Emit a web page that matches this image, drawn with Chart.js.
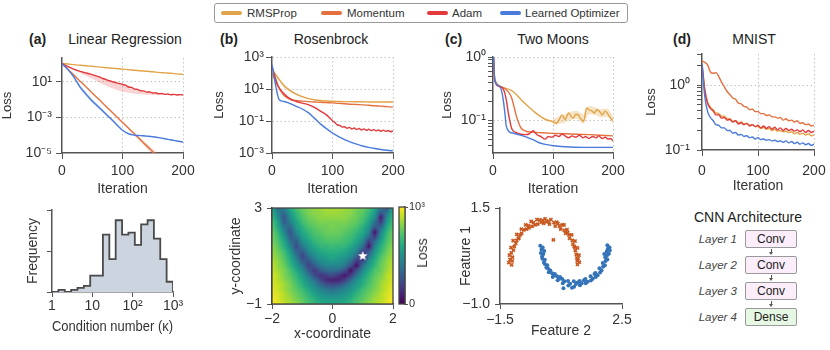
<!DOCTYPE html>
<html>
<head>
<meta charset="utf-8">
<title>Learned optimizer benchmarks</title>
<script src="https://cdn.jsdelivr.net/npm/chart.js@4.4.1/dist/chart.umd.min.js"></script>
<style>
  body { margin: 0; background: #fff; }
  #fig { position: relative; width: 830px; height: 350px; overflow: hidden; background: #fff;
         font-family: "Liberation Sans", Arial, Helvetica, sans-serif; color: #222; }
  #fig canvas { position: absolute; }
  .txt { position: absolute; white-space: nowrap; line-height: 16px; }
  .ttl { font-size: 14px; top: 31px; }
  .ctr { transform: translateX(-50%); }
  .tag { font-weight: bold; }
  .legend { position: absolute; left: 214px; top: 3px; width: 414px; height: 20px; box-sizing: border-box;
            border: 1px solid #999; border-radius: 3px; background: #fff; }
  .swatch { position: absolute; top: 11px; width: 21px; height: 4px; border-radius: 2px; }
  .ltxt { position: absolute; top: 5px; font-size: 11.5px; line-height: 16px; color: #333; }
  .layer { position: absolute; left: 672px; width: 65px; text-align: right; font-size: 11.5px;
           font-style: italic; color: #444; line-height: 18px; }
  .box { position: absolute; left: 745px; width: 52px; height: 18px; box-sizing: border-box; border: 1px solid #999;
         border-radius: 2px; text-align: center; font-size: 12px; line-height: 16px; color: #222; }
  .conv { background: #fbeefa; }
  .dense { background: #e6f8e4; }
  .arr { position: absolute; left: 770.5px; width: 1px; height: 4px; background: #555; }
  .head { position: absolute; left: 768.5px; width: 0; height: 0; border-left: 2.5px solid transparent;
          border-right: 2.5px solid transparent; border-top: 3px solid #555; }
</style>
</head>
<body>
<div id="fig">
  <div class="legend"></div>
  <div class="swatch" style="left:221px;background:#e2a448"></div><div class="ltxt" style="left:247px">RMSProp</div>
  <div class="swatch" style="left:321px;background:#e4703f"></div><div class="ltxt" style="left:347px">Momentum</div>
  <div class="swatch" style="left:427px;background:#e23a3c"></div><div class="ltxt" style="left:452px">Adam</div>
  <div class="swatch" style="left:500px;background:#4a7bdc"></div><div class="ltxt" style="left:525px">Learned Optimizer</div>

  <div class="txt ttl tag" style="left:29px">(a)</div><div class="txt ttl ctr" style="left:125px">Linear Regression</div>
  <div class="txt ttl tag" style="left:220px">(b)</div><div class="txt ttl ctr" style="left:331px">Rosenbrock</div>
  <div class="txt ttl tag" style="left:445px">(c)</div><div class="txt ttl ctr" style="left:553px">Two Moons</div>
  <div class="txt ttl tag" style="left:673px">(d)</div><div class="txt ttl ctr" style="left:754px">MNIST</div>

  <canvas id="cA" width="200" height="150" style="left:0px;top:48px"></canvas>
  <canvas id="cB" width="198" height="151" style="left:212px;top:47px"></canvas>
  <canvas id="cC" width="190" height="151" style="left:440px;top:47px"></canvas>
  <canvas id="cD" width="186" height="151" style="left:644px;top:44px"></canvas>
  <canvas id="cH" width="165" height="136" style="left:25px;top:200px"></canvas>
  <canvas id="cM" width="180" height="145" style="left:225px;top:198px"></canvas>
  <canvas id="cCB" width="30" height="116" style="left:395px;top:197px"></canvas>
  <canvas id="cS" width="182" height="142" style="left:458px;top:198px"></canvas>
  <div class="txt" style="left:421.5px;top:253px;font-size:14px;color:#333;transform:translate(-50%,-50%) rotate(-90deg)">Loss</div>

  <div class="txt ctr" style="left:748px;top:209px;font-size:14px">CNN Architecture</div>
  <div class="layer" style="top:230px">Layer 1</div><div class="box conv" style="top:230px">Conv</div>
  <div class="arr" style="top:249px"></div><div class="head" style="top:252px"></div>
  <div class="layer" style="top:256px">Layer 2</div><div class="box conv" style="top:256px">Conv</div>
  <div class="arr" style="top:275px"></div><div class="head" style="top:278px"></div>
  <div class="layer" style="top:282px">Layer 3</div><div class="box conv" style="top:282px">Conv</div>
  <div class="arr" style="top:301px"></div><div class="head" style="top:304px"></div>
  <div class="layer" style="top:308px">Layer 4</div><div class="box dense" style="top:308px">Dense</div>
</div>
<script>
// ---------- data (loss curves are log10(loss)) ----------
const it10 = [0,10,20,30,40,50,60,70,80,90,100,110,120,130,140,150,160,170,180,190,200];
const it5 = [0,5,10,15,20,25,30,35,40,45,50,55,60,65,70,75,80,85,90,95,100,
             105,110,115,120,125,130,135,140,145,150,155,160,165,170,175,180,185,190,195,200];
const iterTicks = [0, 100, 200];
const iterLabels = ['0', '100', '200'];

// (a) linear regression
const aRms = [2.54,2.49,2.44,2.39,2.35,2.30,2.25,2.20,2.16,2.11,2.06,2.02,1.97,1.93,1.88,1.84,1.79,1.75,1.71,1.66,1.62];
const aMom = [2.54,2.04,1.55,1.05,0.56,0.06,-0.44,-0.93,-1.43,-1.92,-2.42,-2.92,-3.41,-3.91,-4.40,-4.90,-5.40,-5.90,-6.39,-6.89,-7.38];
const aMomHi = [2.54,2.04,1.55,1.05,0.56,0.06,-0.44,-0.93,-1.41,-1.88,-2.36,-2.83,-3.29,-3.75,-4.20,-4.65,-5.10,-5.55,-5.99,-6.44,-6.88];
const aMomLo = [2.54,2.04,1.55,1.05,0.56,0.06,-0.44,-0.93,-1.45,-1.96,-2.48,-3.01,-3.53,-4.07,-4.60,-5.15,-5.70,-6.25,-6.79,-7.34,-7.88];
const aAdam = [2.54,2.40,2.27,2.16,2.05,1.96,1.87,1.80,1.74,1.67,1.60,1.52,1.43,1.33,1.23,1.14,1.06,0.98,0.91,0.84,0.77,
               0.71,0.56,0.52,0.38,0.36,0.24,0.23,0.13,0.14,0.05,0.07,-0.01,0.01,-0.06,-0.03,-0.09,-0.06,-0.11,-0.08,-0.12];
const aAdamHi = [2.54,2.31,2.09,1.91,1.78,1.64,1.47,1.27,1.10,0.95,0.81,0.62,0.44,0.30,0.19,0.11,0.05,0.00,-0.03,-0.05,-0.07];
const aAdamLo = [2.54,2.25,2.00,1.73,1.49,1.25,0.98,0.73,0.51,0.33,0.17,0.08,0.00,-0.04,-0.10,-0.11,-0.11,-0.12,-0.13,-0.14,-0.15];
const aLO = [2.54,2.02,1.37,0.55,-0.06,-0.63,-1.10,-1.59,-2.08,-2.59,-3.08,-3.38,-3.50,-3.54,-3.58,-3.63,-3.71,-3.80,-3.90,-3.99,-4.08];
const aLOHi = [2.54,2.07,1.49,0.70,0.12,-0.45,-0.95,-1.47,-1.98,-2.51,-3.03,-3.35,-3.47,-3.51,-3.55,-3.60,-3.68,-3.77,-3.87,-3.96,-4.05];
const aLOLo = [2.54,1.97,1.25,0.40,-0.24,-0.81,-1.25,-1.71,-2.18,-2.67,-3.13,-3.41,-3.53,-3.57,-3.61,-3.66,-3.74,-3.83,-3.93,-4.02,-4.11];
const aYVals = [1e1, 1e-2, 1e-5];
const aYLabels = ['10¹', '10⁻³', '10⁻⁵'];

// (b) Rosenbrock
const bLOIt = [0,12,20,30,40,50,60,70,80,90,100,110,120,130,140,150,160,170,180,190,200];
const bLO = [2.52,0.33,0.22,0.08,-0.08,-0.25,-0.48,-0.82,-1.18,-1.48,-1.75,-1.97,-2.16,-2.32,-2.45,-2.56,-2.65,-2.72,-2.78,-2.83,-2.87];
const bRms = [2.20,1.70,1.20,0.90,0.68,0.52,0.40,0.33,0.28,0.25,0.23,0.22,0.21,0.21,0.20,0.20,0.19,0.19,0.19,0.19,0.19];
const bRmsHi = [2.30,1.80,1.30,0.98,0.74,0.57,0.44,0.36,0.31,0.27,0.25,0.24,0.23,0.23,0.22,0.22,0.21,0.21,0.21,0.21,0.21];
const bRmsLo = [2.10,1.60,1.10,0.82,0.62,0.47,0.36,0.30,0.25,0.23,0.21,0.20,0.19,0.19,0.18,0.18,0.17,0.17,0.17,0.17,0.17];
const bMom = [2.00,1.16,0.60,0.36,0.28,0.24,0.21,0.19,0.17,0.15,0.13,0.10,0.08,0.05,0.03,0.01,-0.02,-0.05,-0.07,-0.10,-0.13];
const bAdamIt = [0,10,20,30,40,50,60,70,80,90,100,104,108,112,116,120,124,128,132,136,140,144,148,152,156,160,
                 164,168,172,176,180,184,188,192,196,200];
const bAdam = [2.41,1.20,0.70,0.38,0.22,0.12,0.02,-0.15,-0.38,-0.62,-0.98,-1.10,-1.25,-1.27,-1.38,-1.36,-1.45,-1.40,
               -1.50,-1.44,-1.53,-1.47,-1.56,-1.49,-1.58,-1.52,-1.60,-1.54,-1.62,-1.56,-1.64,-1.57,-1.65,-1.59,-1.67,-1.62];
const bYVals = [1e3, 1e1, 1e-1, 1e-3];
const bYLabels = ['10³', '10¹', '10⁻¹', '10⁻³'];

// (c) two moons
const cRmsIt = [0,2,4,10,20,30,40,50,60,70,80,90,98,106,110,115,120,126,130,134,138,142,146,151,156,160,165,169,173,178,182,187,191,196,200];
const cRms = [0.25,-0.30,-0.38,-0.45,-0.49,-0.52,-0.60,-0.70,-0.79,-0.87,-0.94,-0.99,-1.01,-1.04,-0.99,-0.91,-0.98,-0.88,
              -0.93,-0.96,-0.90,-0.91,-0.97,-1.01,-0.80,-0.83,-0.85,-0.88,-0.83,-0.86,-0.91,-0.85,-0.89,-0.96,-1.00];
const cRmsBandIt = [100,110,120,130,140,150,160,170,180,190,200];
const cRmsHi = [-0.98,-0.93,-0.90,-0.86,-0.85,-0.90,-0.77,-0.79,-0.82,-0.81,-0.93];
const cRmsLo = [-1.08,-1.05,-1.03,-0.99,-0.97,-1.05,-0.90,-0.91,-0.95,-0.94,-1.05];
const cMomIt = [0,3,14,25,31,35,39,43,47,51,56,65,80,100,130,160,200];
const cMom = [0.2,-0.36,-0.47,-0.54,-0.64,-0.78,-0.93,-1.04,-1.12,-1.15,-1.17,-1.18,-1.19,-1.20,-1.21,-1.22,-1.24];
const cAdamIt = [0,3,10,17,20,23,25,28,31,35,39,45,53,60,64,67,70,75,80,87,92,98,104,110,115,120,126,132,138,144,
                 150,154,160,166,172,176,182,187,192,196,200];
const cAdam = [0.2,-0.37,-0.46,-0.50,-0.58,-0.72,-0.85,-1.00,-1.12,-1.17,-1.19,-1.21,-1.22,-1.21,-1.18,-1.16,-1.19,-1.23,
               -1.25,-1.29,-1.25,-1.26,-1.23,-1.25,-1.21,-1.24,-1.27,-1.24,-1.26,-1.23,-1.27,-1.25,-1.28,-1.25,-1.27,-1.24,
               -1.28,-1.26,-1.29,-1.28,-1.32];
const cLOIt = [0,3,11,14,17,20,22,25,28,35,42,50,59,67,75,85,98,120,150,200];
const cLO = [0.2,-0.37,-0.46,-0.52,-0.67,-0.90,-1.08,-1.15,-1.18,-1.20,-1.22,-1.24,-1.27,-1.30,-1.34,-1.37,-1.39,-1.41,-1.42,-1.42];
const cYVals = [1,0.9,0.8,0.7,0.6,0.5,0.4,0.3,0.2,0.1,0.09,0.08,0.07,0.06,0.05,0.04];
const cYLabels = ['10⁰','','','','','','','','','10⁻¹','','','','','',''];

// (d) MNIST
const dMom = [0.37,0.35,0.31,0.20,0.18,0.19,0.13,0.04,-0.03,-0.10,-0.15,-0.20,-0.22,-0.28,-0.29,-0.33,-0.34,-0.38,-0.37,-0.41,
              -0.41,-0.44,-0.44,-0.47,-0.46,-0.49,-0.49,-0.51,-0.50,-0.54,-0.52,-0.55,-0.54,-0.57,-0.55,-0.59,-0.58,-0.61,-0.60,-0.63,-0.62];
const dAdam = [0.33,-0.08,-0.28,-0.36,-0.40,-0.46,-0.46,-0.51,-0.50,-0.54,-0.53,-0.57,-0.55,-0.60,-0.58,-0.61,-0.59,-0.63,-0.61,-0.64,
               -0.62,-0.66,-0.63,-0.67,-0.64,-0.68,-0.65,-0.69,-0.66,-0.70,-0.67,-0.70,-0.68,-0.71,-0.69,-0.72,-0.69,-0.73,-0.70,-0.73,-0.71];
const dRms = [0.33,-0.06,-0.27,-0.34,-0.38,-0.43,-0.44,-0.48,-0.48,-0.52,-0.52,-0.56,-0.55,-0.58,-0.57,-0.60,-0.59,-0.62,-0.61,-0.64,
              -0.64,-0.67,-0.65,-0.68,-0.67,-0.70,-0.68,-0.71,-0.70,-0.72,-0.71,-0.73,-0.72,-0.75,-0.73,-0.76,-0.74,-0.77,-0.75,-0.78,-0.77];
const dLO = [0.33,-0.18,-0.41,-0.50,-0.55,-0.61,-0.62,-0.66,-0.66,-0.70,-0.70,-0.74,-0.73,-0.77,-0.76,-0.79,-0.78,-0.81,-0.80,-0.83,
             -0.81,-0.84,-0.83,-0.85,-0.84,-0.86,-0.85,-0.87,-0.86,-0.88,-0.86,-0.89,-0.87,-0.90,-0.88,-0.91,-0.89,-0.92,-0.90,-0.93,-0.91];
const dYVals = [3,2,1,0.9,0.8,0.7,0.6,0.5,0.4,0.3,0.2,0.1];
const dYLabels = ['','','10⁰','','','','','','','','','10⁻¹'];

// condition number histogram (log-spaced bins)
const histEdges = [1,1.44,2.07,2.98,4.28,6.16,8.86,12.7,18.3,26.4,37.9,54.6,78.5,113,162,234,336,483,695,1000];
const histCounts = [0,1,0,1,2,3,8,8,28,16,35,28,29,23,33,35,26,16,5];
const histXVals = [1, 10, 100, 1000];
const histXLabels = ['1', '10', '10²', '10³'];
const histYVals = [0, 20, 40];
const histYLabels = ['', '', ''];

// Rosenbrock loss landscape: colour level per grid node as a base-36 digit (0 = valley, z = 35 = max),
// rows from y=3 down to y=-1, columns from x=-2 to x=2
const heatXs = [-2,-1.8,-1.6,-1.4,-1.2,-1,-0.8,-0.6,-0.4,-0.2,0,0.2,0.4,0.6,0.8,1,1.2,1.4,1.6,1.8,2];
const heatYs = [3,2.8,2.6,2.4,2.2,2,1.8,1.6,1.4,1.2,1,0.8,0.6,0.4,0.2,0,-0.2,-0.4,-0.6,-0.8,-1];
const heatRows = [
  'lcflprstuuuuutsrple9l',
  'mfcjnqsttuuuttrqnj9em',
  'oh9hmprstttttsrpmh2ho',
  'pkafkoqrsssssrqokd6jp',
  'qlebjmpqrrsrrqpmi9clq',
  'rng9glnpqrrrqpnlg1gnr',
  'sojadjmopqqqpomjc6ios',
  'spldahknoppponkg6ckps',
  'tqmg8eilnnonnlid1gmqt',
  'urojbagjlmmmljg79inru',
  'usple7dhjklkjhc0dkpsu',
  'vtqmha9ehijihd67hmqtv',
  'wtrnje7aeggge91djnrtw',
  'wusplha6acdc919glpruw',
  'xvsqnje8578626djnqsvx',
  'xvtrolhd84336chlortvx',
  'xwuspmjgc989cgjmpruwx',
  'ywusqoligedegiloqsuwy',
  'yxvtrpnkihghiknprtvxy',
  'zxvusqomkjjjkmoqsuvxz',
  'zywutrpnmlllmnprtuwyz'
];
const heatMaxLevel = 35;
const optimum = [{ x: 1, y: 1 }];
const heatXVals = [-2, 0, 2], heatXLabels = ['−2', '0', '2'];
const heatYVals = [-1, 3], heatYLabels = ['−1', '3'];
const cbVals = [0, 1000], cbLabels = ['0', '10³'];

// two moons samples
const moonA = [[-1.21,0.08],[-1.12,0.02],[-1.17,0.16],[-1.19,0.27],[-1.09,0.22],[-1.13,0.33],[-1.06,0.40],[-1.14,0.47],
  [-1.03,0.50],[-0.98,0.58],[-1.07,0.65],[-0.95,0.66],[-0.88,0.72],[-0.95,0.81],[-0.84,0.80],[-0.79,0.84],[-0.72,0.93],
  [-0.80,0.95],[-0.63,0.95],[-0.57,1.04],[-0.66,1.06],[-0.45,1.02],[-0.40,1.12],[-0.48,1.15],[-0.26,1.08],[-0.20,1.19],
  [-0.29,1.20],[-0.07,1.10],[-0.02,1.22],[-0.10,1.18],[0.12,1.08],[0.17,1.20],[0.09,1.16],[0.31,1.03],[0.36,1.13],
  [0.27,1.12],[0.49,0.95],[0.54,1.06],[0.45,1.03],[0.65,0.84],[0.70,0.94],[0.61,0.92],[0.78,0.71],[0.85,0.80],[0.76,0.80],
  [0.89,0.56],[0.96,0.64],[0.87,0.66],[0.97,0.39],[1.04,0.46],[0.95,0.48],[1.02,0.20],[1.09,0.27],[1.00,0.29],[1.04,0.03],
  [1.10,0.09],[1.03,0.12],[0.25,0.67],[-0.55,0.98],[-0.35,1.06],[0.02,1.14],[0.40,1.09],[0.72,0.86],[-0.90,0.70],
  [0.93,0.50],[1.06,0.18],[-1.10,0.12],[-0.15,1.13],[0.60,1.06]];
const moonB = [[-0.18,0.52],[-0.10,0.47],[-0.14,0.42],[-0.16,0.33],[-0.08,0.30],[-0.12,0.24],[-0.11,0.18],[-0.03,0.15],
  [-0.06,0.08],[-0.03,0.04],[0.05,0.01],[0.02,-0.05],[0.08,-0.08],[0.15,-0.13],[0.10,-0.17],[0.21,-0.20],[0.28,-0.25],
  [0.23,-0.30],[0.37,-0.28],[0.44,-0.34],[0.39,-0.38],[0.54,-0.35],[0.61,-0.41],[0.56,-0.46],[0.73,-0.40],[0.80,-0.47],
  [0.74,-0.52],[0.92,-0.41],[0.99,-0.48],[0.93,-0.55],[1.11,-0.40],[1.18,-0.46],[1.12,-0.51],[1.30,-0.35],[1.37,-0.42],
  [1.31,-0.46],[1.47,-0.28],[1.54,-0.34],[1.48,-0.39],[1.63,-0.19],[1.70,-0.25],[1.64,-0.30],[1.76,-0.07],[1.83,-0.13],
  [1.78,-0.18],[1.87,0.07],[1.94,0.01],[1.88,-0.03],[1.95,0.22],[2.02,0.16],[1.96,0.12],[2.00,0.37],[2.07,0.31],[2.01,0.27],
  [2.02,0.53],[2.09,0.47],[2.03,0.43],[0.58,-0.59],[0.86,-0.58],[1.05,-0.44],[0.47,-0.30],[1.60,-0.22],[-0.05,0.38],
  [1.92,0.30],[0.30,-0.22],[1.25,-0.38],[2.10,0.40]];
const moonXVals = [-1.5, 2.5], moonXLabels = ['−1.5', '2.5'];
const moonYVals = [-1, 1.5], moonYLabels = ['−1.0', '1.5'];

// ---------- styling ----------
const INK = '#333', AXIS = '#555', GRID = '#c4c4c4';
const C_RMS = '#e2a448', C_MOM = '#e4703f', C_ADAM = '#e23a3c', C_LO = '#4a7bdc';
Chart.defaults.font.family = '"Liberation Sans", Arial, Helvetica, sans-serif';
Chart.defaults.color = INK;

const pts = (xs, logs) => xs.map((x, i) => ({ x: x, y: Math.pow(10, logs[i]) }));
function curve(xs, logs, color) {
  return { data: pts(xs, logs), borderColor: color, borderWidth: 1.4, pointRadius: 0, fill: false,
           cubicInterpolationMode: 'monotone' };
}
function band(xs, lo, hi, color) {
  return [
    { data: pts(xs, lo), borderColor: 'transparent', borderWidth: 0, pointRadius: 0, fill: false, cubicInterpolationMode: 'monotone' },
    { data: pts(xs, hi), borderColor: 'transparent', borderWidth: 0, pointRadius: 0, fill: '-1', backgroundColor: color,
      cubicInterpolationMode: 'monotone' }
  ];
}
const fixedY = w => s => { s.width = w; s.paddingTop = 0; s.paddingBottom = 0; };
const fixedX = h => s => { s.height = h; s.paddingLeft = 0; s.paddingRight = 0; };
const setTicks = (vals, labs) => s => { s.ticks = vals.map((v, i) => ({ value: v, lab: labs[i] })); };

function axis(o) {
  return {
    type: o.type, min: o.min, max: o.max, bounds: 'data',
    afterFit: o.fit, afterBuildTicks: setTicks(o.vals, o.labs),
    ticks: { callback: (v, i, t) => t[i].lab, autoSkip: false, maxRotation: 0, padding: o.pad,
             color: INK, font: { size: o.fs || 14 } },
    grid: { drawOnChartArea: !!o.dots, tickColor: AXIS, tickLength: o.tl || 6, lineWidth: 1,
            color: c => (o.dots && c.tick && o.dots.includes(c.tick.value)) ? GRID : 'rgba(0,0,0,0)' },
    border: { color: o.bc || AXIS, width: 1.5, dash: [1.5, 2.5] },
    title: { display: !!o.title, text: o.title, color: INK, font: { size: o.tfs || 14 }, padding: o.tpad || 0 }
  };
}
function make(id, type, datasets, pad, scales, plugins) {
  return new Chart(document.getElementById(id), {
    type: type, data: { datasets: datasets }, plugins: plugins || [],
    options: { responsive: false, animation: false, devicePixelRatio: 1, layout: { padding: pad },
               plugins: { legend: { display: false }, tooltip: { enabled: false } }, scales: scales }
  });
}
const iterAxis = (h, pad) => axis({ type: 'linear', min: 0, max: 200, fit: fixedX(h), vals: iterTicks, labs: iterLabels,
                                    dots: [100, 200], pad: pad, title: 'Iteration' });

// ---------- top row ----------
make('cA', 'line', [
  curve(it10, aLO, C_LO), curve(it5, aAdam, C_ADAM), curve(it10, aMom, C_MOM), curve(it10, aRms, C_RMS),
  ...band(it10, aLOLo, aLOHi, 'rgba(74,123,220,0.25)'),
  ...band(it10, aAdamLo, aAdamHi, 'rgba(226,58,60,0.22)'),
  ...band(it10, aMomLo, aMomHi, 'rgba(228,112,63,0.25)')
], { top: 10, right: 17, left: 0, bottom: 0 }, {
  x: iterAxis(45, 4),
  y: axis({ type: 'logarithmic', min: 1e-5, max: 1e3, fit: fixedY(62), vals: aYVals, labs: aYLabels,
            dots: [1e1, 1e-2], pad: 4, title: 'Loss', tfs: 13 })
});

make('cB', 'line', [
  curve(bLOIt, bLO, C_LO), curve(bAdamIt, bAdam, C_ADAM), curve(it10, bMom, C_MOM), curve(it10, bRms, C_RMS),
  ...band(it10, bRmsLo, bRmsHi, 'rgba(226,164,72,0.3)')
], { top: 10, right: 17, left: 0, bottom: 0 }, {
  x: iterAxis(45, 4),
  y: axis({ type: 'logarithmic', min: 1e-3, max: 1e3, fit: fixedY(60), vals: bYVals, labs: bYLabels,
            dots: [1e3, 1e1, 1e-1], pad: 2, title: 'Loss', tfs: 13 })
});

make('cC', 'line', [
  curve(cLOIt, cLO, C_LO), curve(cAdamIt, cAdam, C_ADAM), curve(cMomIt, cMom, C_MOM), curve(cRmsIt, cRms, C_RMS),
  ...band(cRmsBandIt, cRmsLo, cRmsHi, 'rgba(226,164,72,0.3)')
], { top: 10, right: 17, left: 0, bottom: 0 }, {
  x: iterAxis(45, 4),
  y: axis({ type: 'logarithmic', min: 0.031, max: 1, fit: fixedY(53), vals: cYVals, labs: cYLabels,
            dots: [1, 0.1], pad: 2, tl: 5, title: 'Loss', tfs: 13 })
});

make('cD', 'line', [
  curve(it5, dLO, C_LO), curve(it5, dAdam, C_ADAM), curve(it5, dRms, C_RMS), curve(it5, dMom, C_MOM)
], { top: 10, right: 16, left: 0, bottom: 0 }, {
  x: iterAxis(45, 7),
  y: axis({ type: 'logarithmic', min: 0.1, max: 3, fit: fixedY(58), vals: dYVals, labs: dYLabels,
            dots: [1], pad: 7, tl: 5, title: 'Loss', tfs: 13 })
});

// ---------- histogram ----------
make('cH', 'line', [{
  data: histEdges.map((e, i) => ({ x: e, y: i < histCounts.length ? histCounts[i] : 0 })),
  stepped: true, fill: 'origin', backgroundColor: '#ccd5df', borderColor: '#4a4a4a', borderWidth: 1.8, pointRadius: 0
}], { top: 10, right: 17, left: 0, bottom: 0 }, {
  x: axis({ type: 'logarithmic', min: 1, max: 1000, fit: fixedX(44), vals: histXVals, labs: histXLabels, pad: 1,
            tl: 5, title: 'Condition number (κ)' }),
  y: axis({ type: 'linear', min: 0, max: 40, fit: fixedY(27), vals: histYVals, labs: histYLabels, pad: 0, tl: 5,
            title: 'Frequency' })
});

// ---------- Rosenbrock heatmap ----------
const VIRIDIS = ['#440154','#482475','#414487','#355f8d','#2a788e','#21918c','#22a884','#44bf70','#7ad151','#bddf26','#fde725'];
const hexRgb = h => [1, 3, 5].map(k => parseInt(h.substr(k, 2), 16));
const VIR_RGB = VIRIDIS.map(hexRgb);
function viridisRgb(t) {
  const p = Math.max(0, Math.min(1, t)) * (VIR_RGB.length - 1);
  const i = Math.min(VIR_RGB.length - 2, Math.floor(p)), f = p - i;
  const a = VIR_RGB[i], b = VIR_RGB[i + 1];
  return a.map((v, k) => Math.round(v + (b[k] - v) * f));
}
const heatPlugin = {
  id: 'heat',
  beforeDatasetsDraw(chart) {
    const { ctx, chartArea: a, scales: { x, y } } = chart;
    const levels = heatRows.map(row => row.split('').map(ch => parseInt(ch, 36)));
    const nx = heatXs.length, ny = heatYs.length;
    const left = Math.round(a.left), top = Math.round(a.top);
    const w = Math.round(a.right) - left, h = Math.round(a.bottom) - top;
    const img = ctx.createImageData(w, h);
    for (let py = 0; py < h; py++) {
      const yv = y.getValueForPixel(top + py + 0.5);
      const fr = Math.max(0, Math.min(ny - 1.0001, (heatYs[0] - yv) / (heatYs[0] - heatYs[1])));
      const r0 = Math.floor(fr), ty = fr - r0;
      for (let px = 0; px < w; px++) {
        const xv = x.getValueForPixel(left + px + 0.5);
        const fc = Math.max(0, Math.min(nx - 1.0001, (xv - heatXs[0]) / (heatXs[1] - heatXs[0])));
        const c0 = Math.floor(fc), tx = fc - c0;
        const up = levels[r0][c0] * (1 - tx) + levels[r0][c0 + 1] * tx;
        const dn = levels[r0 + 1][c0] * (1 - tx) + levels[r0 + 1][c0 + 1] * tx;
        const col = viridisRgb((up * (1 - ty) + dn * ty) / heatMaxLevel);
        const k = (py * w + px) * 4;
        img.data[k] = col[0]; img.data[k + 1] = col[1]; img.data[k + 2] = col[2]; img.data[k + 3] = 255;
      }
    }
    ctx.putImageData(img, left, top);
  }
};
const framePlugin = {
  id: 'frame',
  afterDraw(chart) {
    const { ctx, chartArea: a } = chart;
    ctx.save(); ctx.strokeStyle = '#444'; ctx.lineWidth = 1.3;
    ctx.strokeRect(a.left, a.top, a.width, a.height); ctx.restore();
  }
};
function starMarker(r) {
  const c = document.createElement('canvas');
  c.width = c.height = 2 * r + 2;
  const g = c.getContext('2d');
  g.fillStyle = '#fff'; g.beginPath();
  for (let k = 0; k < 10; k++) {
    const rad = k % 2 ? r * 0.45 : r, ang = -Math.PI / 2 + k * Math.PI / 5;
    g.lineTo(r + 1 + rad * Math.cos(ang), r + 1 + rad * Math.sin(ang));
  }
  g.closePath(); g.fill();
  return c;
}
make('cM', 'scatter', [{ data: optimum, pointStyle: starMarker(5), pointRadius: 5 }],
  { top: 10, right: 12, left: 0, bottom: 0 }, {
  x: axis({ type: 'linear', min: -2, max: 2, fit: fixedX(39), vals: heatXVals, labs: heatXLabels, pad: 2, tl: 5,
            bc: '#444', title: 'x-coordinate' }),
  y: axis({ type: 'linear', min: -1, max: 3, fit: fixedY(47), vals: heatYVals, labs: heatYLabels, pad: 5, tl: 5,
            bc: '#444', title: 'y-coordinate', tpad: { top: 3 } })
}, [heatPlugin, framePlugin]);

const cbPlugin = {
  id: 'cbar',
  beforeDatasetsDraw(chart) {
    const { ctx, chartArea: a } = chart;
    const grad = ctx.createLinearGradient(0, a.bottom, 0, a.top);
    VIRIDIS.forEach((c, i) => grad.addColorStop(i / (VIRIDIS.length - 1), c));
    ctx.save(); ctx.fillStyle = grad; ctx.fillRect(a.left, a.top, a.width, a.height); ctx.restore();
  }
};
make('cCB', 'scatter', [], { top: 10, right: 0, left: 4, bottom: 9 }, {
  x: { display: false },
  y: Object.assign(axis({ type: 'linear', min: 0, max: 1000, fit: fixedY(20), vals: cbVals, labs: cbLabels, pad: 1,
                          tl: 3, fs: 11, bc: '#444' }), { position: 'right' })
}, [cbPlugin, framePlugin]);

// ---------- two moons ----------
make('cS', 'scatter', [
  { data: moonA.map(p => ({ x: p[0], y: p[1] })), pointStyle: 'crossRot', pointRadius: 2.2, borderWidth: 1.6,
    borderColor: '#c8581f', backgroundColor: '#c8581f' },
  { data: moonB.map(p => ({ x: p[0], y: p[1] })), pointStyle: 'circle', pointRadius: 2, borderWidth: 0,
    backgroundColor: '#3473b8' }
], { top: 10, right: 18, left: 0, bottom: 0 }, {
  x: axis({ type: 'linear', min: -1.5, max: 2.5, fit: fixedX(36), vals: moonXVals, labs: moonXLabels, pad: 3, tl: 5,
            title: 'Feature 2' }),
  y: axis({ type: 'linear', min: -1, max: 1.5, fit: fixedY(42), vals: moonYVals, labs: moonYLabels, pad: 5, tl: 5,
            title: 'Feature 1' })
});
</script>
</body>
</html>
